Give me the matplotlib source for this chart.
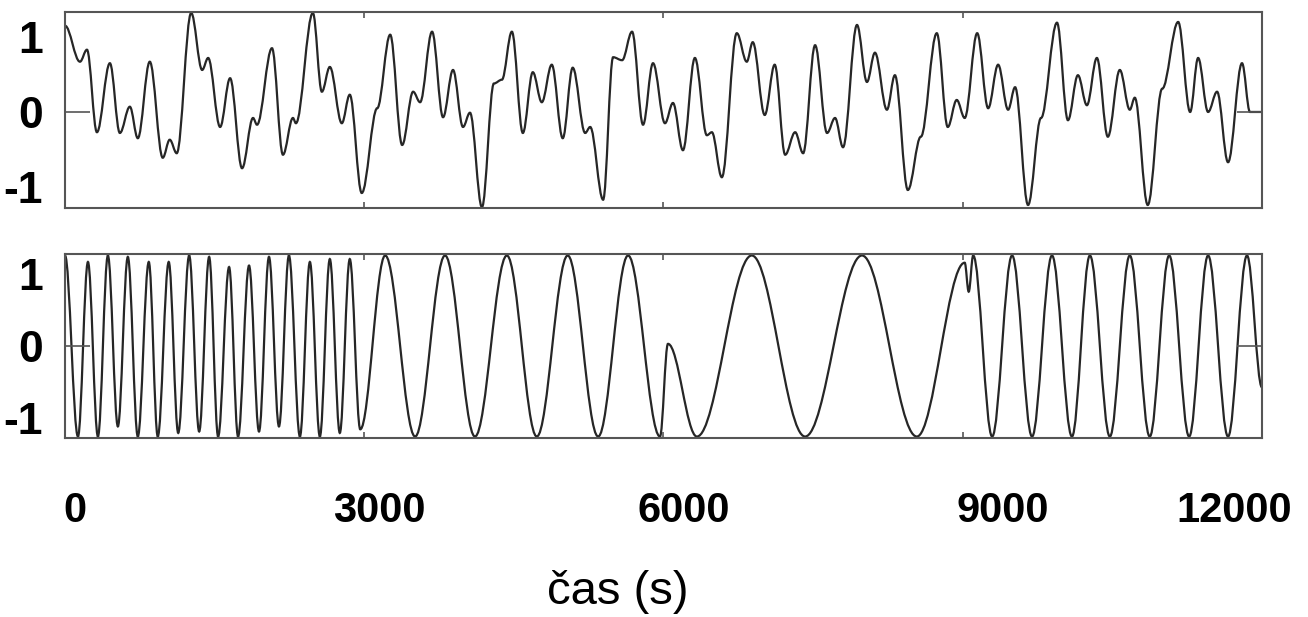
import matplotlib.pyplot as plt
from matplotlib.path import Path
from matplotlib.patches import PathPatch
from matplotlib.ticker import FixedLocator
from matplotlib.transforms import ScaledTranslation

plt.rcParams['font.family'] = ['Liberation Sans', 'DejaVu Sans']
plt.rcParams['axes.unicode_minus'] = False

# turning points of the upper signal (time in s, value)
top_t = [0, 150, 220, 320, 450, 550, 650, 730, 850, 980, 1050, 1120, 1265, 1375, 1435,
         1555, 1655, 1775, 1885, 1925, 2075, 2185, 2285, 2315, 2485, 2575, 2655, 2775,
         2855, 2975, 3130, 3260, 3380, 3490, 3560, 3680, 3790, 3890, 3990, 4060, 4180,
         4300, 4380, 4480, 4590, 4690, 4780, 4880, 4990, 5090, 5215, 5265, 5395, 5495,
         5585, 5685, 5795, 5895, 6015, 6095, 6195, 6315, 6435, 6485, 6585, 6735, 6835,
         6895, 7015, 7115, 7220, 7320, 7400, 7520, 7640, 7720, 7800, 7940, 8040, 8120,
         8240, 8320, 8450, 8580, 8740, 8850, 8940, 9020, 9145, 9255, 9355, 9455, 9525,
         9655, 9785, 9945, 10055, 10155, 10245, 10345, 10455, 10575, 10675, 10725,
         10855, 11000, 11160, 11280, 11360, 11460, 11550, 11660, 11800, 11880, 12000]
top_v = [1.15, 0.67, 0.83, -0.27, 0.65, -0.28, 0.07, -0.35, 0.67, -0.61, -0.37, -0.55,
         1.32, 0.56, 0.72, -0.2, 0.45, -0.75, -0.08, -0.17, 0.85, -0.57, -0.08, -0.15,
         1.32, 0.27, 0.6, -0.15, 0.23, -1.08, 0.05, 1.03, -0.44, 0.27, 0.13, 1.07, -0.07,
         0.56, -0.2, -0.01, -1.27, 0.38, 0.43, 1.07, -0.28, 0.53, 0.13, 0.63, -0.35, 0.59,
         -0.28, -0.2, -1.17, 0.73, 0.69, 1.07, -0.17, 0.65, -0.15, 0.12, -0.51, 0.72,
         -0.31, -0.27, -0.87, 1.05, 0.67, 0.93, -0.04, 0.63, -0.57, -0.27, -0.55, 0.89,
         -0.28, -0.08, -0.47, 1.16, 0.4, 0.79, 0.03, 0.49, -1.04, -0.33, 1.05, -0.2, 0.16,
         -0.08, 1.05, 0.05, 0.63, 0.03, 0.33, -1.24, -0.08, 1.19, -0.11, 0.49, 0.09, 0.72,
         -0.33, 0.56, 0.03, 0.19, -1.24, 0.31, 1.2, 0.0, 0.72, 0.0, 0.27, -0.67, 0.65,
         0.0, 0.0]

# turning points of the lower signal
bot_t = [0, 130, 230, 330, 430, 530, 630, 730, 840, 930, 1040, 1135, 1245, 1345, 1445,
         1535, 1645, 1735, 1845, 1945, 2045, 2145, 2245, 2355, 2455, 2555, 2655, 2755,
         2855, 2960, 3210, 3510, 3810, 4110, 4430, 4730, 5040, 5345, 5645, 5965, 6045,
         6335, 6885, 7420, 7990, 8540, 9020, 9060, 9105, 9295, 9495, 9695, 9895, 10095,
         10275, 10475, 10675, 10875, 11070, 11270, 11460, 11660, 11850, 12000]
bot_v = [1.25, -1.25, 1.16, -1.25, 1.25, -1.11, 1.23, -1.25, 1.16, -1.25, 1.16, -1.2,
         1.25, -1.18, 1.23, -1.25, 1.09, -1.25, 1.11, -1.18, 1.23, -1.11, 1.25, -1.25,
         1.16, -1.25, 1.2, -1.2, 1.2, -1.15, 1.25, -1.25, 1.25, -1.25, 1.25, -1.25, 1.25,
         -1.25, 1.25, -1.25, 0.03, -1.25, 1.25, -1.25, 1.25, -1.25, 1.15, 0.75, 1.25,
         -1.25, 1.25, -1.25, 1.25, -1.25, 1.25, -1.25, 1.25, -1.25, 1.25, -1.25, 1.25,
         -1.25, 1.25, -0.57]

x_ticks = [0, 3000, 6000, 9000, 12000]
y_ticks = [-1, 0, 1]
y_labels = ['-1', '0', '1']


def smooth_path(ts, vs):
    # cubic segments with flat tangents at each turning point
    verts = [(ts[0], vs[0])]
    codes = [Path.MOVETO]
    for i in range(len(ts) - 1):
        d = ts[i + 1] - ts[i]
        verts += [(ts[i] + 0.3634 * d, vs[i]), (ts[i + 1] - 0.3634 * d, vs[i + 1]),
                  (ts[i + 1], vs[i + 1])]
        codes += [Path.CURVE4] * 3
    return Path(verts, codes)


fig = plt.figure(figsize=(13.08, 6.17), dpi=100)
ax1 = fig.add_axes([0.0497, 0.6629, 0.9151, 0.3177])
ax2 = fig.add_axes([0.0497, 0.2901, 0.9151, 0.2982])

for ax, ts, vs, ylim in [(ax1, top_t, top_v, (-1.28, 1.333)),
                         (ax2, bot_t, bot_v, (-1.27, 1.27))]:
    ax.add_patch(PathPatch(smooth_path(ts, vs), fill=False, ec='#262626', lw=1.6))
    ax.set_xlim(0, 12000)
    ax.set_ylim(*ylim)
    ax.set_xticks(x_ticks)
    ax.set_yticks(y_ticks)
    ax.set_yticklabels(y_labels)
    ax.yaxis.set_minor_locator(FixedLocator([0]))
    ax.yaxis.remove_overlapping_locs = False
    ax.tick_params(axis='x', direction='in', length=4, width=1.2, color='#555555',
                   top=True, labelsize=30, pad=38)
    ax.tick_params(axis='y', which='major', length=0, labelsize=32, pad=16)
    ax.tick_params(axis='y', which='minor', direction='in', length=18, width=1.2,
                   color='#555555', right=True)
    for lab in ax.get_xticklabels() + ax.get_yticklabels():
        lab.set_fontweight('bold')
    for sp in ax.spines.values():
        sp.set_color('#555555')
        sp.set_linewidth(1.5)

ax1.tick_params(axis='x', labelbottom=False)

# the printed labels sit a little off their ticks
shifts = [10, 15, 20, 40, -28]
for lab, dx in zip(ax2.get_xticklabels(), shifts):
    lab.set_transform(lab.get_transform() + ScaledTranslation(dx / 100, 0, fig.dpi_scale_trans))

fig.text(0.4725, 0.04, 'čas (s)', fontsize=34, ha='center', va='center')

fig.savefig('out.png', dpi=100)
